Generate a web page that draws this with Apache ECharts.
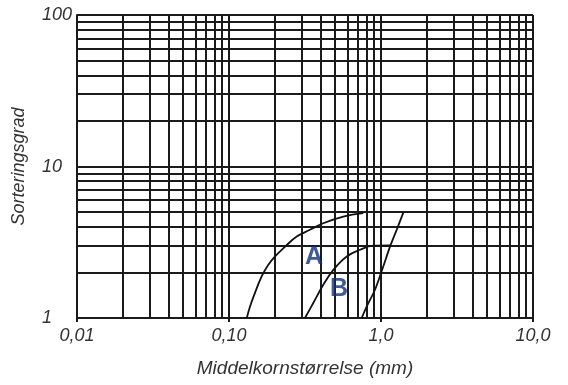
<!DOCTYPE html>
<html>
<head>
<meta charset="utf-8">
<script src="https://cdn.jsdelivr.net/npm/echarts@6/dist/echarts.min.js"></script>
<style>
html,body{margin:0;padding:0;background:#fff;}
#c{width:568px;height:385px;}
</style>
</head>
<body>
<div id="c"></div>
<script>
// Axis ticks
var xTickValues = [0.01, 0.1, 1, 10];
var xTickLabels = ['0,01', '0,10', '1,0', '10,0'];
var yTickValues = [1, 10, 100];
var yTickLabels = ['1', '10', '100'];
// Grid (log paper) lines
var gridX = [0.01,0.02,0.03,0.04,0.05,0.06,0.07,0.08,0.09,
             0.1,0.2,0.3,0.4,0.5,0.6,0.7,0.8,0.9,
             1,2,3,4,5,6,7,8,9,10];
var gridY = [1,2,3,4,5,6,7,8,9,10,20,30,40,50,60,70,80,90,100];
// Curve A
var curveAX = [0.131, 0.1375, 0.148, 0.164, 0.181, 0.201, 0.234, 0.279, 0.341, 0.417, 0.565, 0.765];
var curveAY = [1.0, 1.19, 1.46, 1.88, 2.24, 2.55, 2.96, 3.45, 3.82, 4.22, 4.67, 4.92];
// Curve B
var curveBX = [0.316, 0.3585, 0.417, 0.486, 0.595, 0.7275, 0.89, 1.146];
var curveBY = [1.0, 1.255, 1.657, 2.08, 2.546, 2.82, 3.0, 3.02];
// Steep line
var lineCX = [0.746, 0.805, 0.913, 1.035, 1.146, 1.268, 1.402];
var lineCY = [1.0, 1.19, 1.536, 2.19, 2.96, 3.82, 4.96];
// Labels
var labelNames = ['A', 'B'];
var labelX = [0.362, 0.529];
var labelY = [2.53, 1.54];

function pairs(xs, ys){ return xs.map(function(x,i){ return [x, ys[i]]; }); }

var font = 'Liberation Sans, Arial, sans-serif';
var chart = echarts.init(document.getElementById('c'), null, {renderer:'canvas'});
chart.setOption({
  animation: false,
  backgroundColor: '#fff',
  grid: {left: 77, right: 35, top: 15, bottom: 67, containLabel: false, outerBoundsMode: 'none'},
  xAxis: {
    type: 'log', logBase: 10, min: 0.01, max: 10,
    name: 'Middelkornstørrelse (mm)', nameLocation: 'middle', nameGap: 41,
    nameTextStyle: {fontFamily: font, fontStyle: 'italic', fontSize: 19, color: '#333'},
    axisLine: {show: true, lineStyle: {color: '#1a1a1a', width: 2}},
    axisTick: {show: true, length: 4, lineStyle: {color: '#1a1a1a', width: 2}},
    splitLine: {show: false},
    axisLabel: {
      fontFamily: font, fontStyle: 'italic', fontSize: 18, color: '#333', margin: 9,
      formatter: function(v){
        var i = xTickValues.findIndex(function(t){ return Math.abs(Math.log10(t) - Math.log10(v)) < 1e-6; });
        return i >= 0 ? xTickLabels[i] : '';
      }
    }
  },
  yAxis: {
    type: 'log', logBase: 10, min: 1, max: 100,
    name: 'Sorteringsgrad', nameLocation: 'middle', nameGap: 49, nameRotate: 90,
    nameTextStyle: {fontFamily: font, fontStyle: 'italic', fontSize: 18, color: '#333'},
    axisLine: {show: true, lineStyle: {color: '#1a1a1a', width: 2}},
    axisTick: {show: false},
    splitLine: {show: false},
    axisLabel: {
      fontFamily: font, fontStyle: 'italic', fontSize: 18, color: '#333', margin: 35, align: 'left',
      formatter: function(v){
        var i = yTickValues.findIndex(function(t){ return Math.abs(Math.log10(t) - Math.log10(v)) < 1e-6; });
        return i >= 0 ? yTickLabels[i] : '';
      }
    }
  },
  series: [
    {
      type: 'line', data: [], silent: true, z: 1,
      markLine: {
        silent: true, symbol: ['none','none'], animation: false,
        label: {show: false},
        lineStyle: {color: '#1a1a1a', width: 2, type: 'solid'},
        data: gridX.map(function(v){ return {xAxis: v}; }).concat(gridY.map(function(v){ return {yAxis: v}; }))
      }
    },
    {type: 'line', data: pairs(curveAX, curveAY), smooth: 0.4, symbol: 'none', z: 5,
     lineStyle: {color: '#111', width: 1.8}},
    {type: 'line', data: pairs(curveBX, curveBY), smooth: 0.4, symbol: 'none', z: 5,
     lineStyle: {color: '#111', width: 1.8}},
    {type: 'line', data: pairs(lineCX, lineCY), smooth: 0.3, symbol: 'none', z: 5,
     lineStyle: {color: '#111', width: 1.8}},
    {type: 'scatter', symbolSize: 0, z: 10,
     data: labelNames.map(function(n,i){ return {name: n, value: [labelX[i], labelY[i]]}; }),
     label: {show: true, position: 'inside', formatter: '{b}', fontFamily: font, fontWeight: 'bold',
             fontSize: 25, color: '#0f2f80'}}
  ]
});
</script>
</body>
</html>
